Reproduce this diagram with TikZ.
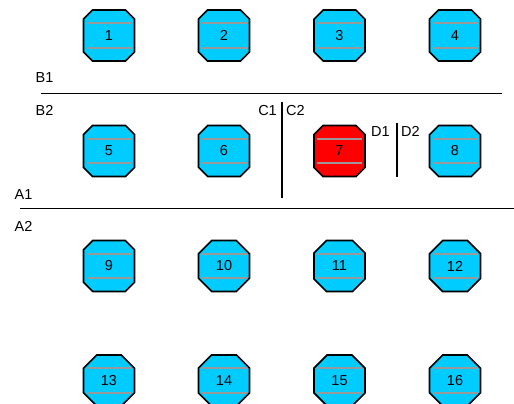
\documentclass[tikz,border=0pt]{standalone}
\usepackage{fontspec}
\setmainfont{Liberation Sans}
\usetikzlibrary{shapes.misc}
\definecolor{PadCyan}{HTML}{00CCFF}
\definecolor{PadRed}{HTML}{FF0000}
\definecolor{PadGrey}{HTML}{999999}
\tikzset{
  pad/.style={chamfered rectangle, chamfered rectangle sep=9pt, draw=black, fill=PadCyan,
              line width=1.6pt, minimum width=51pt, minimum height=51pt, inner sep=0pt,
              font=\fontsize{14.5}{16}\selectfont,
              path picture={
                \draw[PadGrey, line width=2pt]
                  ([xshift=3pt,yshift=12.3pt]path picture bounding box.west) --
                  ([xshift=-3pt,yshift=12.3pt]path picture bounding box.east)
                  ([xshift=3pt,yshift=-12.3pt]path picture bounding box.west) --
                  ([xshift=-3pt,yshift=-12.3pt]path picture bounding box.east);
              }},
  padhot/.style={pad, fill=PadRed},
  divider/.style={draw=black, line width=1.2pt},
  tag/.style={inner sep=0pt, font=\fontsize{14.5}{16}\selectfont},
}
\begin{document}
\begin{tikzpicture}[x=1pt,y=-1pt]
  \useasboundingbox (0,0) rectangle (514,404);
  % pads, four rows of four
  \foreach \row/\yy in {0/35.5,1/151,2/266,3/380.5}
    \foreach \col/\xx in {1/109,2/224,3/339.5,4/455} {
      \pgfmathtruncatemacro{\n}{4*\row+\col}
      \ifnum\n=7
        \node[padhot] (pad\n) at (\xx,\yy) {\n};
      \else
        \node[pad] (pad\n) at (\xx,\yy) {\n};
      \fi
    }
  % cut lines
  \coordinate (bl) at (41,93.3);   \coordinate (br) at (502,93.3);
  \coordinate (al) at (20,208.3);  \coordinate (ar) at (514,208.3);
  \coordinate (ct) at (282,102);   \coordinate (cb) at (282,198);
  \coordinate (dt) at (397,123);   \coordinate (db) at (397,177);
  \draw[divider] (bl) -- (br);
  \draw[divider] (al) -- (ar);
  \draw[divider] (ct) -- (cb);
  \draw[divider] (dt) -- (db);
  % labels
  \node[tag,anchor=base west] (b1) at (35.5,82.7) {B1};
  \node[tag,anchor=base west] (b2) at (35.5,115) {B2};
  \node[tag,anchor=base west] (a1) at (14.5,199) {A1};
  \node[tag,anchor=base west] (a2) at (14.5,231) {A2};
  \node[tag,anchor=base east] (c1) at (277,115) {C1};
  \node[tag,anchor=base west] (c2) at (286,115) {C2};
  \node[tag,anchor=base west] (d1) at (371,136) {D1};
  \node[tag,anchor=base west] (d2) at (401,136) {D2};
\end{tikzpicture}
\end{document}
